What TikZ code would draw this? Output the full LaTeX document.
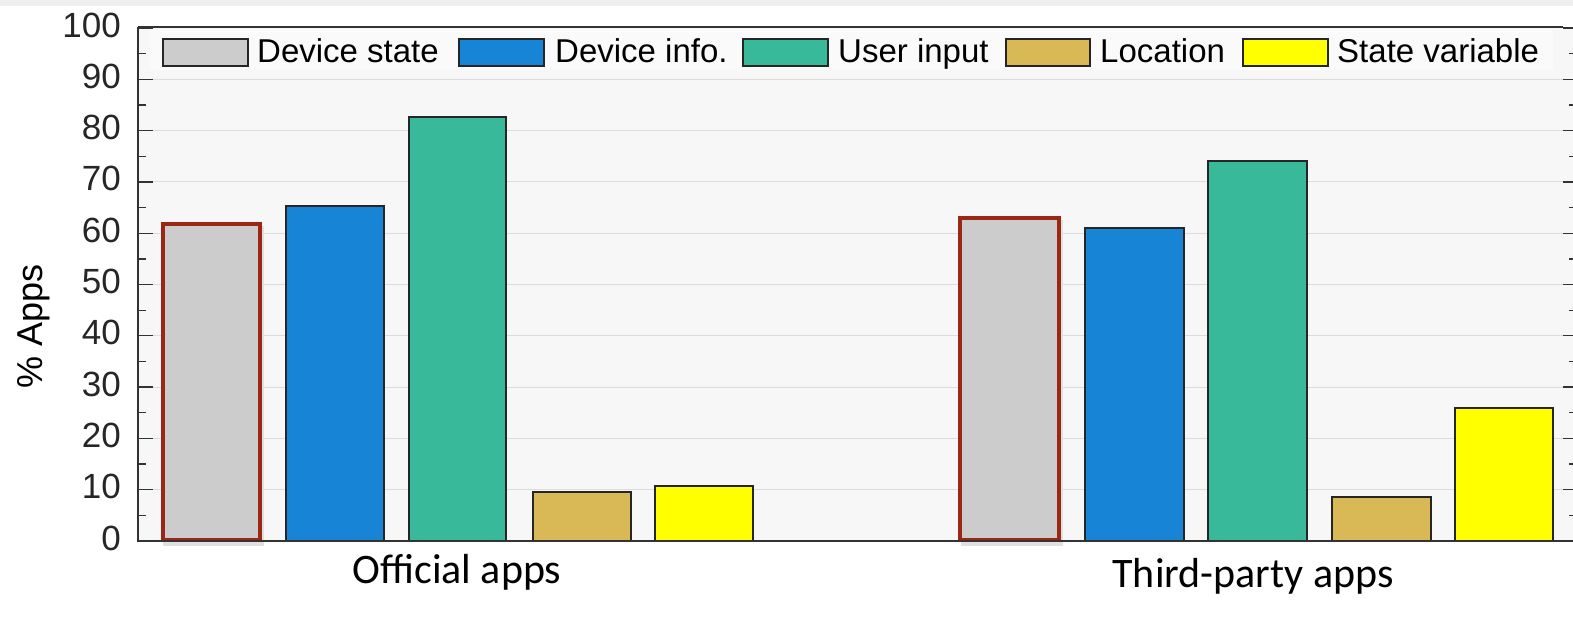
\documentclass[tikz,border=0pt]{standalone}
\usepackage{fontspec}
\setmainfont{Liberation Sans}
\newfontfamily\calib{Carlito}
\definecolor{topband}{HTML}{EFEFEF}
\definecolor{plotbg}{HTML}{F7F7F7}
\definecolor{legbg}{HTML}{FAFAFA}
\definecolor{gridc}{HTML}{DCDCDC}
\definecolor{axisc}{HTML}{333333}
\definecolor{cgray}{HTML}{CCCCCC}
\definecolor{cblue}{HTML}{1884D6}
\definecolor{cteal}{HTML}{38B99A}
\definecolor{cloc}{HTML}{D8B955}
\definecolor{cyel}{HTML}{FFFF00}
\definecolor{cred}{HTML}{9B2614}
\definecolor{ticktext}{HTML}{262626}
\tikzset{
  barbox/.style={draw=black!85, line width=1.2pt},
  redbox/.style={draw=cred, line width=3.6pt},
  shadowbox/.style={draw=black!12, line width=4pt},
  axisline/.style={draw=axisc, line width=1.3pt},
  gridline/.style={draw=gridc, line width=1pt},
  ticklabel/.style={anchor=base east, text=ticktext, font=\fontsize{35}{40}\selectfont, inner sep=0pt},
  legtext/.style={anchor=base west, text=black, font=\fontsize{33}{40}\selectfont, inner sep=0pt},
  grouplabel/.style={anchor=base, text=black, font=\calib\fontsize{42}{48}\selectfont, inner sep=0pt},
  swatch/.style={draw=black!85, line width=1.2pt}
}
\newcommand\mybar[4]{\path[barbox,fill=#1] (#2,541) rectangle (#3,#4);}
\begin{document}
\begin{tikzpicture}[x=1pt,y=-1pt]
\useasboundingbox (0,0) rectangle (1573,641);
\fill[white] (0,0) rectangle (1573,641);
\fill[topband] (0,0) rectangle (1573,6);
% plot background
\fill[plotbg] (138,27) rectangle (1573,541);
\fill[legbg] (150,29) rectangle (1553,70);
% grid
\foreach \v in {10,20,...,90}{
  \pgfmathsetmacro\yy{541-5.13*\v}
  \draw[gridline] (138,\yy) -- (1563,\yy);
}
% soft shadows of highlighted bars
\draw[shadowbox] (165,228) rectangle (262,544);
\draw[shadowbox] (963,222) rectangle (1061,544);
% bars: official
\mybar{cgray}{162}{260}{223}
\mybar{cblue}{286}{384}{206}
\mybar{cteal}{409}{506}{117}
\mybar{cloc}{533}{631}{492}
\mybar{cyel}{655}{753}{486}
% bars: third-party
\mybar{cgray}{961}{1059}{217}
\mybar{cblue}{1085}{1184}{228}
\mybar{cteal}{1208}{1307}{161}
\mybar{cloc}{1332}{1431}{497}
\mybar{cyel}{1455}{1553}{408}
% red highlight boxes
\draw[redbox] (163,224) rectangle (260,540);
\draw[redbox] (960,218) rectangle (1059,540);
% axes
\draw[axisline] (138,27) -- (138,541) -- (1573,541);
\draw[axisline] (138,27) -- (1563,27);
\foreach \v in {0,10,...,100}{
  \pgfmathsetmacro\yy{541-5.13*\v}
  \draw[axisline] (138,\yy) -- (153,\yy);
  \draw[axisline] (1563,\yy) -- (1573,\yy);
  \node[ticklabel] (t\v) at (121,\yy+9) {\v};
}
\foreach \v in {5,15,...,95}{
  \pgfmathsetmacro\yy{541-5.13*\v}
  \draw[axisline] (138,\yy) -- (146,\yy);
  \draw[axisline] (1569,\yy) -- (1573,\yy);
}
% legend
\draw[swatch,fill=cgray] (163,39) rectangle (248,66);
\node[legtext] (l1) at (257,62) {Device state};
\draw[swatch,fill=cblue] (459,39) rectangle (544,66);
\node[legtext] (l2) at (555,62) {Device info.};
\draw[swatch,fill=cteal] (743,39) rectangle (828,66);
\node[legtext] (l3) at (838,62) {User input};
\draw[swatch,fill=cloc] (1006,39) rectangle (1090,66);
\node[legtext] (l4) at (1100,62) {Location};
\draw[swatch,fill=cyel] (1243,39) rectangle (1328,66);
\node[legtext] (l5) at (1337,62) {State variable};
% labels
\node[grouplabel] (g1) at (457,583) {Official apps};
\node[grouplabel] (g2) at (1253,587) {Third-party apps};
\node[rotate=90, anchor=base, inner sep=0pt, font=\fontsize{36}{42}\selectfont] (ylab) at (42,326) {\% Apps};
\end{tikzpicture}
\end{document}
